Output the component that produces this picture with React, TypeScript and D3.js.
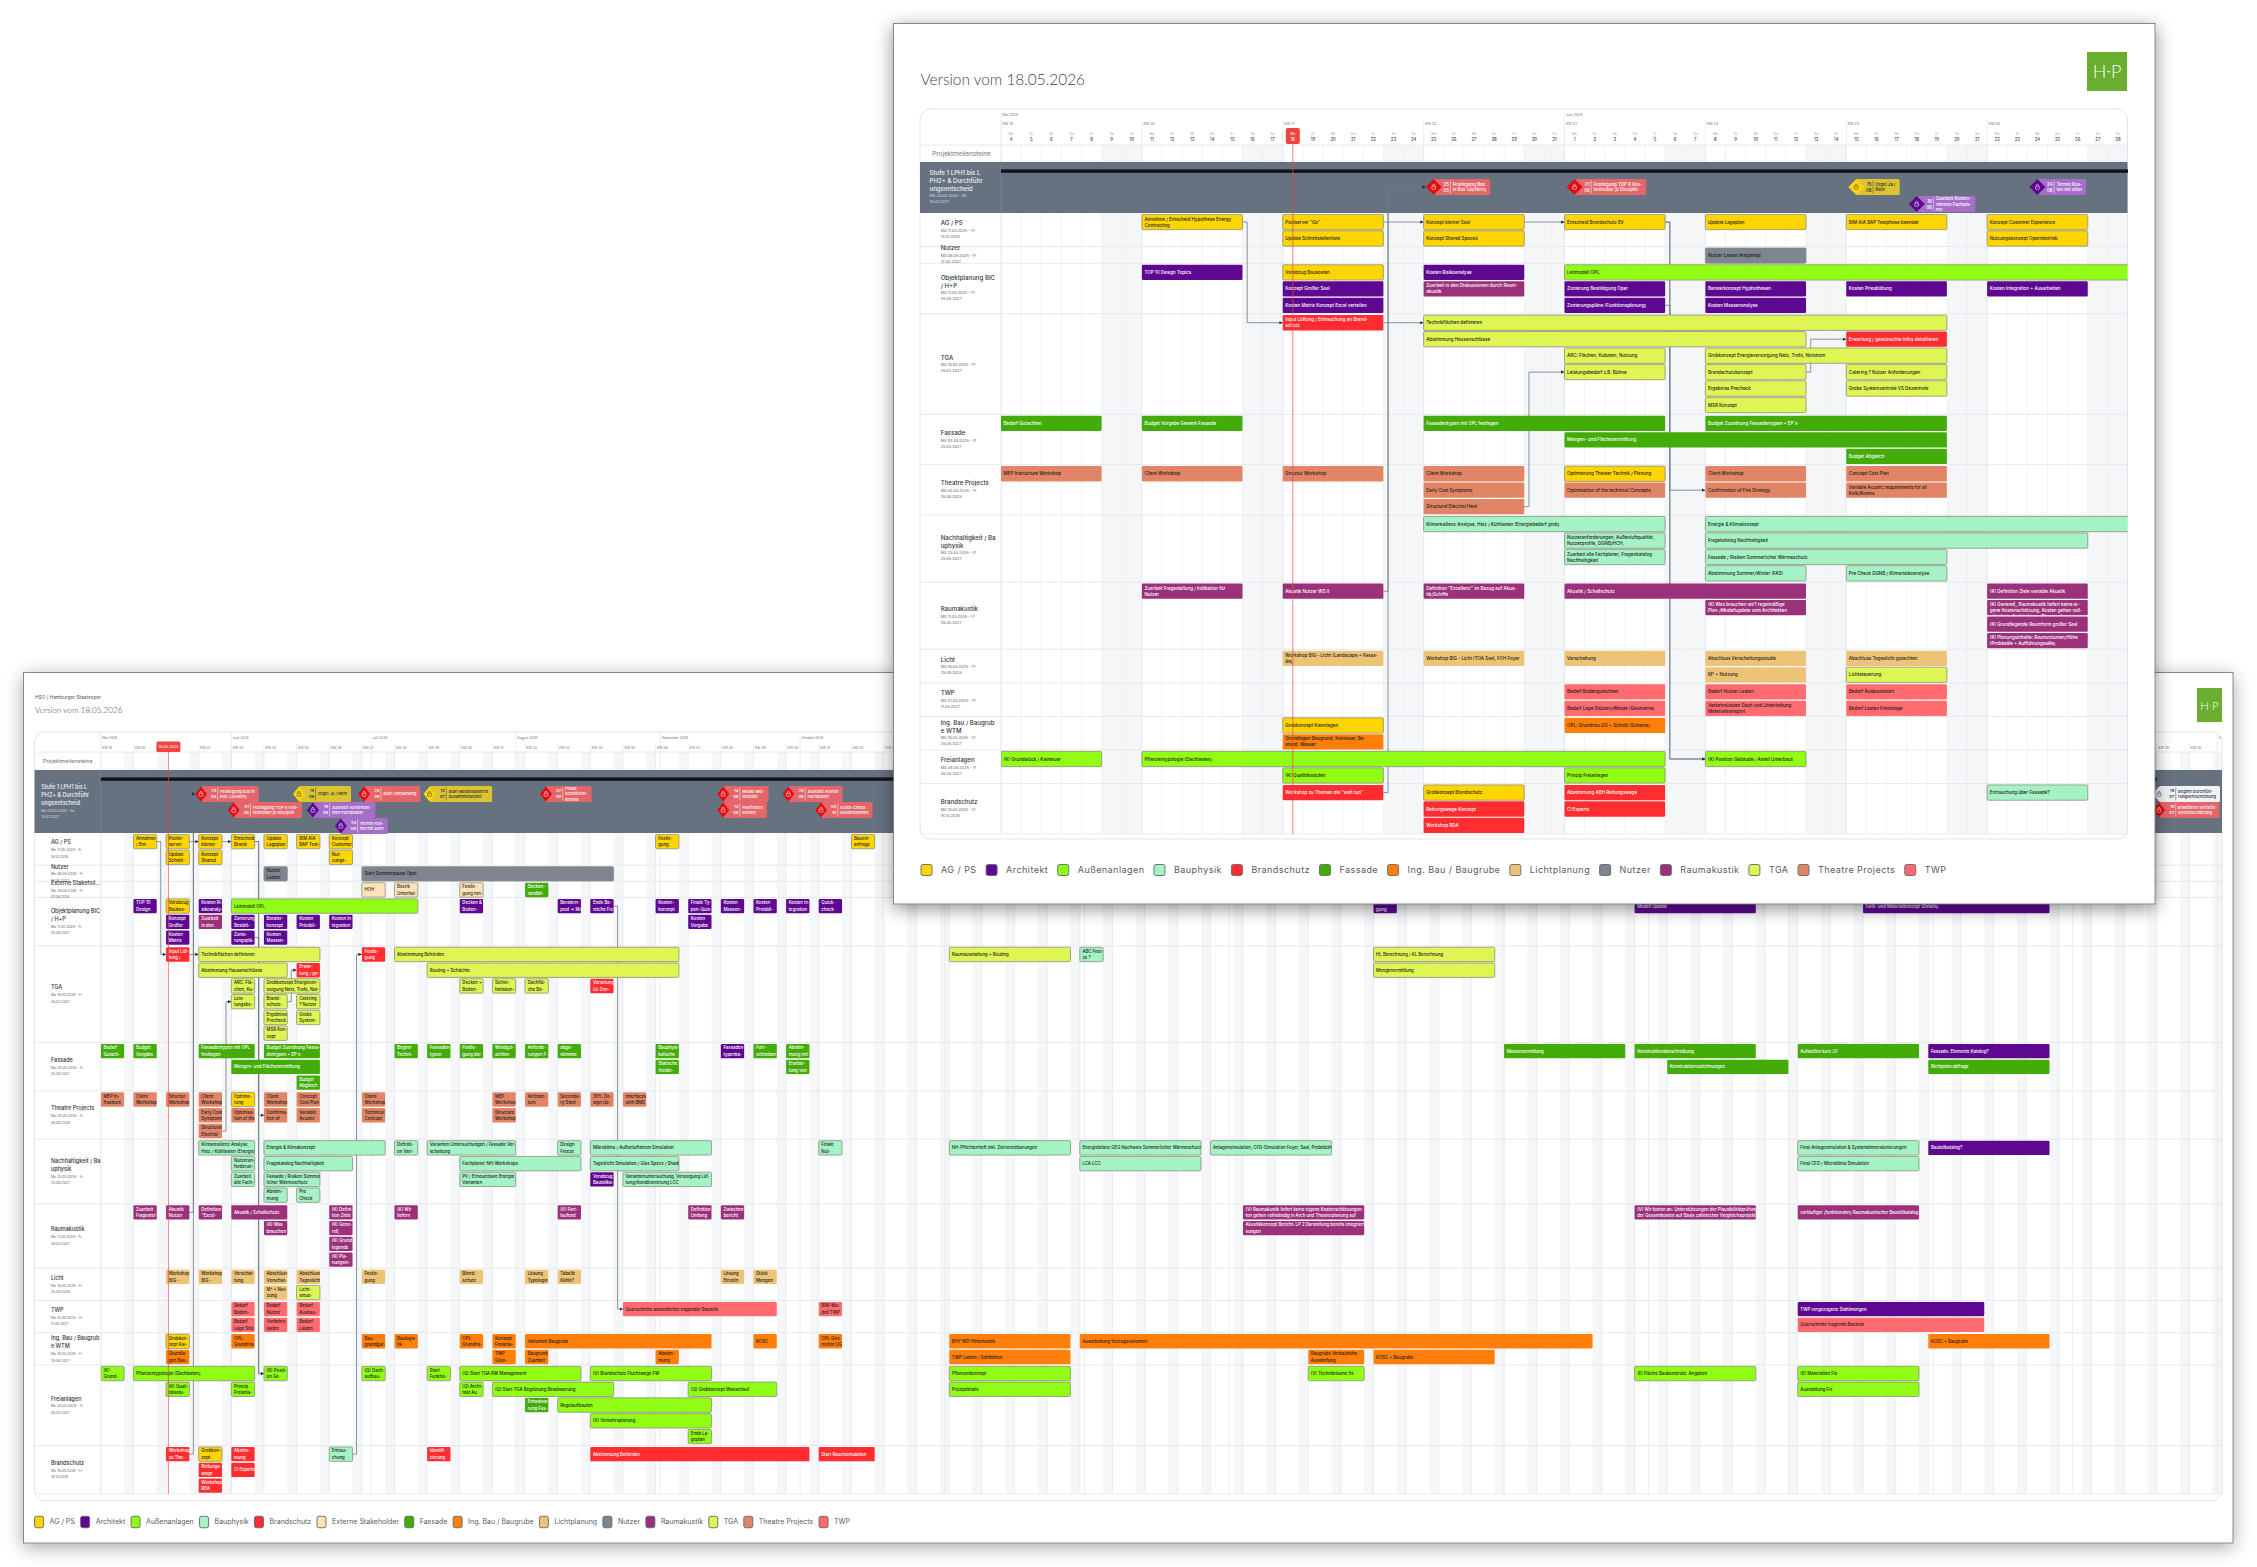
import React from "react";
import * as d3 from "d3";

// Farben der Gewerke
const catKeys = ["ag", "ar", "au", "bp", "br", "es", "fa", "ib", "li", "nu", "ra", "tg", "th", "tw"];
const catNames = ["AG / PS", "Architekt", "Außenanlagen", "Bauphysik", "Brandschutz", "Externe Stakeholder", "Fassade", "Ing. Bau / Baugrube", "Lichtplanung", "Nutzer", "Raumakustik", "TGA", "Theatre Projects", "TWP"];
const catColors = ["#ffd500", "#5e0891", "#92fd14", "#a5f3c4", "#ff2d2f", "#ffe3b8", "#43ac08", "#ff7f0a", "#edc377", "#7f8590", "#9c317b", "#dff553", "#e28566", "#ff6b6e"];
const outlined = ["ag", "au", "bp", "tg", "es", "nu"];
const lightText = ["ar", "br", "fa", "ra"];

const rowKeys = ["AG", "NU", "EX", "OB", "TG", "FA", "TH", "NA", "RA", "LI", "TW", "IB", "FR", "BR"];
const rowNames = ["AG / PS", "Nutzer", "Externe Stakehol...", "Objektplanung BIC\n/ H+P", "TGA", "Fassade", "Theatre Projects", "Nachhaltigkeit / Ba\nuphysik", "Raumakustik", "Licht", "TWP", "Ing. Bau / Baugrub\ne WTM", "Freianlagen", "Brandschutz"];
const rowDates = ["Mo 11.05.2026 - Fr\n16.10.2026", "Mo 08.06.2026 - Fr\n12.02.2027", "Mo 29.06.2026 - Fr\n07.08.2026", "Mo 11.05.2026 - Fr\n25.06.2027", "Mo 18.05.2026 - Fr\n26.02.2027", "Mo 04.05.2026 - Fr\n25.06.2027", "Mo 04.05.2026 - Fr\n28.08.2026", "Mo 25.05.2026 - Fr\n25.06.2027", "Mo 11.05.2026 - Fr\n28.05.2027", "Mo 18.05.2026 - Fr\n25.09.2026", "Mo 01.06.2026 - Fr\n11.06.2027", "Mo 18.05.2026 - Fr\n25.06.2027", "Mo 04.05.2026 - Fr\n28.05.2027", "Mo 18.05.2026 - Fr\n16.10.2026"];
const frontLanes = [2, 1, 0, 3, 6, 3, 3, 4, 4, 2, 2, 2, 2, 3];
const backLanes = [2, 1, 1, 3, 6, 3, 3, 4, 4, 2, 2, 2, 5, 3];
const summaryName = "Stufe 1 LPH1 bis L\nPH2+ & Durchführ\nungsentscheid";
const summaryDates = "Mo 04.05.2026 - So\n18.07.2027";
const summarySpan = ["2026-05-04", "2027-07-18"];
const todayDate = "2026-05-18";
const monthNames = ["Januar", "Februar", "März", "April", "Mai", "Juni", "Juli", "August", "September", "Oktober", "November", "Dezember"];
const dayNames = ["So", "Mo", "Di", "Mi", "Do", "Fr", "Sa"];

// [Gewerk, Zeile, Spur, Start, Dauer in Tagen, Text]
type Task = [string, string, number, string, number, string];
type Ms = [string, number, string, string];

const frontTasks: Task[] = [
  ["ag", "AG", 0, "2026-05-11", 5, "Annahme / Entscheid Hypothese Energy\nContracting"],
  ["ag", "AG", 0, "2026-05-18", 5, 'Poolserver "Go"'],
  ["ag", "AG", 0, "2026-05-25", 5, "Konzept kleiner Saal"],
  ["ag", "AG", 0, "2026-06-01", 5, "Entscheid Brandschutz EV"],
  ["ag", "AG", 0, "2026-06-08", 5, "Update Lageplan"],
  ["ag", "AG", 0, "2026-06-15", 5, "BIM AIA BAP Testphase beendet"],
  ["ag", "AG", 0, "2026-06-22", 5, "Konzept Customer Experience"],
  ["ag", "AG", 1, "2026-05-18", 5, "Update Schnittstellenliste"],
  ["ag", "AG", 1, "2026-05-25", 5, "Konzept Shared Spaces"],
  ["ag", "AG", 1, "2026-06-22", 5, "Nutzungskonzept Opernbetrieb"],
  ["nu", "NU", 0, "2026-06-08", 5, "Nutzer Lasten festgelegt"],
  ["ar", "OB", 0, "2026-05-11", 5, "TOP 10 Design Topics"],
  ["ag", "OB", 0, "2026-05-18", 5, "Vorabzug Baukosten"],
  ["ar", "OB", 0, "2026-05-25", 5, "Kosten Risikoanalyse"],
  ["au", "OB", 0, "2026-06-01", 40, "Leitmodell OPL"],
  ["ar", "OB", 1, "2026-05-18", 5, "Konzept Großer Saal"],
  ["ra", "OB", 1, "2026-05-25", 5, "Zuarbeit in den Diskussionen durch Raum-\nakustik"],
  ["ar", "OB", 1, "2026-06-01", 5, "Zonierung Bestätigung Oper"],
  ["ar", "OB", 1, "2026-06-08", 5, "Beraterkonzept Hyphothesen"],
  ["ar", "OB", 1, "2026-06-15", 5, "Kosten Priesbildung"],
  ["ar", "OB", 1, "2026-06-22", 5, "Kosten Integration + Ausarbeiten"],
  ["ar", "OB", 2, "2026-05-18", 5, "Kosten Matrix Konzept Excel verteilen"],
  ["ar", "OB", 2, "2026-06-01", 5, "Zonierungspläne (Funktionsplanung)"],
  ["ar", "OB", 2, "2026-06-08", 5, "Kosten Massenanalyse"],
  ["br", "TG", 0, "2026-05-18", 5, "Input Lüftung / Entrauchung an Brand-\nschutz"],
  ["tg", "TG", 0, "2026-05-25", 26, "Technikflächen definieren"],
  ["tg", "TG", 1, "2026-05-25", 19, "Abstimmung Hausanschlüsse"],
  ["br", "TG", 1, "2026-06-15", 5, "Erwartung / gewünschte Infos detaillieren"],
  ["tg", "TG", 2, "2026-06-01", 5, "ARC: Flächen, Kubaten, Nutzung"],
  ["tg", "TG", 2, "2026-06-08", 12, "Grobkonzept Energieversorgung Netz, Trafo, Notstrom"],
  ["tg", "TG", 3, "2026-06-01", 5, "Leistungsbedarf z.B. Bühne"],
  ["tg", "TG", 3, "2026-06-08", 5, "Brandschutzkonzept"],
  ["tg", "TG", 3, "2026-06-15", 5, "Catering ? Nutzer Anforderungen"],
  ["tg", "TG", 4, "2026-06-08", 5, "Ergebniss Precheck"],
  ["tg", "TG", 4, "2026-06-15", 5, "Grobe Systemzentrale VS Dezentrale"],
  ["tg", "TG", 5, "2026-06-08", 5, "MSR Konzept"],
  ["fa", "FA", 0, "2026-05-04", 5, "Bedarf Gutachten"],
  ["fa", "FA", 0, "2026-05-11", 5, "Budget Vorgabe Gewerk Fassade"],
  ["fa", "FA", 0, "2026-05-25", 12, "Fassadentypen mit OPL festlegen"],
  ["fa", "FA", 0, "2026-06-08", 12, "Budget Zuordnung Fassadentypen + EP´s"],
  ["fa", "FA", 1, "2026-06-01", 19, "Mengen- und Flächenermittlung"],
  ["fa", "FA", 2, "2026-06-15", 5, "Budget Abgleich"],
  ["th", "TH", 0, "2026-05-04", 5, "MEP Instructure Workshop"],
  ["th", "TH", 0, "2026-05-11", 5, "Client Workshop"],
  ["th", "TH", 0, "2026-05-18", 5, "Structur Workshop"],
  ["th", "TH", 0, "2026-05-25", 5, "Client Workshop"],
  ["ag", "TH", 0, "2026-06-01", 5, "Optimierung Theater Technik / Planung"],
  ["th", "TH", 0, "2026-06-08", 5, "Client Workshop"],
  ["th", "TH", 0, "2026-06-15", 5, "Concept Cost Plan"],
  ["th", "TH", 1, "2026-05-25", 5, "Early Cost Symptoms"],
  ["th", "TH", 1, "2026-06-01", 5, "Optimisation of the technical Concepts"],
  ["th", "TH", 1, "2026-06-08", 5, "Confirmation of Fire Strategy"],
  ["th", "TH", 1, "2026-06-15", 5, "Variable Acustic requirements for all\nKalk/Rooms"],
  ["th", "TH", 2, "2026-05-25", 5, "Structural Electrial Heat"],
  ["bp", "NA", 0, "2026-05-25", 12, "Klimaresilienz Analyse, Heiz / Kühllasten (Energiebedarf grob)"],
  ["bp", "NA", 0, "2026-06-08", 26, "Energie & Klimakonzept"],
  ["bp", "NA", 1, "2026-06-01", 5, "Nutzeranforderungen, Außenluftqualität,\nNutzerprofile, DGNB/HCH,"],
  ["bp", "NA", 1, "2026-06-08", 19, "Fragekatalog Nachhaltigkeit"],
  ["bp", "NA", 2, "2026-06-01", 5, "Zuarbeit alle Fachplaner, Fragenkatalog\nNachhaltigkeit"],
  ["bp", "NA", 2, "2026-06-08", 12, "Fassade / Risiken Sommerlicher Wärmeschutz"],
  ["bp", "NA", 3, "2026-06-08", 5, "Abstimmung Sommer/Winter (FAS)"],
  ["bp", "NA", 3, "2026-06-15", 5, "Pre Check DGNB / Klimarisikoanalyse"],
  ["ra", "RA", 0, "2026-05-11", 5, "Zuarbeit Fragestellung / Indikation für\nNutzer"],
  ["ra", "RA", 0, "2026-05-18", 5, "Akustik Nutzer WS II"],
  ["ra", "RA", 0, "2026-05-25", 5, 'Definition "Excellenz" im Bezug auf Akus-\ntik/Schiffe'],
  ["ra", "RA", 0, "2026-06-01", 12, "Akustik / Schallschutz"],
  ["ra", "RA", 0, "2026-06-22", 5, "(K) Definition Ziele variable Akustik"],
  ["ra", "RA", 1, "2026-06-08", 5, "(K) Was brauchen wir? regelmäßige\nPlan-/Modellupdate vom Architekten"],
  ["ra", "RA", 1, "2026-06-22", 5, "(K) Generell_ Raumakustik liefert keine ei-\ngene Kostenschätzung, Kosten gehen voll-\nständig in Architektur + Theaterpla-"],
  ["ra", "RA", 2, "2026-06-22", 5, "(K) Grundlegende Raumform großer Saal"],
  ["ra", "RA", 3, "2026-06-22", 5, "(K) Planungsinhalte: Raumvolumen/Höhe\n(Probesäle + Aufführungssäle)"],
  ["li", "LI", 0, "2026-05-18", 5, "Workshop BIG - Licht (Landscape + Fassa-\nde)"],
  ["li", "LI", 0, "2026-05-25", 5, "Workshop BIG - Licht (TOA Saal, FOH Foyer"],
  ["li", "LI", 0, "2026-06-01", 5, "Verschattung"],
  ["li", "LI", 0, "2026-06-08", 5, "Abschluss Verschattungsstudie"],
  ["li", "LI", 0, "2026-06-15", 5, "Abschluss Tageslicht gutachten"],
  ["li", "LI", 1, "2026-06-08", 5, "M² + Nutzung"],
  ["tg", "LI", 1, "2026-06-15", 5, "Lichtsteuerung"],
  ["tw", "TW", 0, "2026-06-01", 5, "Bedarf Bodengutachten"],
  ["tw", "TW", 0, "2026-06-08", 5, "Bedarf Nutzer Lasten"],
  ["tw", "TW", 0, "2026-06-15", 5, "Bedarf Ausbaulasten"],
  ["tw", "TW", 1, "2026-06-01", 5, "Bedarf Lage Stützen/Wände (Geometrie)"],
  ["tw", "TW", 1, "2026-06-08", 5, "Verkehrslasten Dach und Unterhaltung\nMaterialtransport"],
  ["tw", "TW", 1, "2026-06-15", 5, "Bedarf Lasten Freianlage"],
  ["ag", "IB", 0, "2026-05-18", 5, "Grobkonzept Kaianlagen"],
  ["ib", "IB", 0, "2026-06-01", 5, "OPL: Grundriss UG + Schnitt (Schema)"],
  ["ib", "IB", 1, "2026-05-18", 5, "Grundlagen Baugrund, Kaimauer, Be-\nstand, Wasser"],
  ["au", "FR", 0, "2026-05-04", 5, "(K) Grundstück / Kaimauer"],
  ["au", "FR", 0, "2026-05-11", 26, "Pflanzentypologie (Dachlasten)"],
  ["au", "FR", 0, "2026-06-08", 5, "(K) Position Gebäude / Anteil Unterbaut"],
  ["au", "FR", 1, "2026-05-18", 5, "(K) Qualitätsstufen"],
  ["au", "FR", 1, "2026-06-01", 5, "Prinzip Freianlagen"],
  ["br", "BR", 0, "2026-05-18", 5, 'Workshop zu Themen die "weh tun"'],
  ["ag", "BR", 0, "2026-05-25", 5, "Grobkonzept Brandschutz"],
  ["br", "BR", 0, "2026-06-01", 5, "Abstimmung ABH Rettungswege"],
  ["bp", "BR", 0, "2026-06-22", 5, "Entrauchung über Fassade?"],
  ["br", "BR", 1, "2026-05-25", 5, "Rettungswege Konzept"],
  ["br", "BR", 1, "2026-06-01", 5, "CI Experts"],
  ["br", "BR", 2, "2026-05-25", 5, "Workshop RDA"],
];

const backTasks: Task[] = [
  ["ag", "AG", 0, "2026-05-11", 5, "Annahme\n/ Ent-"],
  ["ag", "AG", 0, "2026-05-18", 5, "Pooler-\nserver"],
  ["ag", "AG", 0, "2026-05-25", 5, "Konzept\nkleiner"],
  ["ag", "AG", 0, "2026-06-01", 5, "Entscheid\nBrand-"],
  ["ag", "AG", 0, "2026-06-08", 5, "Update\nLageplan"],
  ["ag", "AG", 0, "2026-06-15", 5, "BIM AIA\nBAP Test-"],
  ["ag", "AG", 0, "2026-06-22", 5, "Konzept\nCustomer"],
  ["ag", "AG", 0, "2026-08-31", 5, "Festle-\ngung"],
  ["ag", "AG", 0, "2026-10-12", 5, "Bauvor-\nanfrage"],
  ["ag", "AG", 1, "2026-05-18", 5, "Update\nSchnitt-"],
  ["ag", "AG", 1, "2026-05-25", 5, "Konzept\nShared"],
  ["ag", "AG", 1, "2026-06-22", 5, "Nut-\nzungs-"],
  ["nu", "NU", 0, "2026-06-08", 5, "Nutzer\nLasten"],
  ["nu", "NU", 0, "2026-06-29", 54, "Start Sommerpause Oper"],
  ["es", "EX", 0, "2026-06-29", 5, "HOH"],
  ["es", "EX", 0, "2026-07-06", 5, "Bezirk\nUnterhal-"],
  ["es", "EX", 0, "2026-07-20", 5, "Festle-\ngung not-"],
  ["fa", "EX", 0, "2026-08-03", 5, "Decken-\nrandbil-"],
  ["ar", "OB", 0, "2026-05-11", 5, "TOP 10\nDesign"],
  ["ag", "OB", 0, "2026-05-18", 5, "Vorabzug\nBaukos-"],
  ["ar", "OB", 0, "2026-05-25", 5, "Kosten Ri-\nsikoanaly-"],
  ["au", "OB", 0, "2026-06-01", 40, "Leitmodell OPL"],
  ["ar", "OB", 0, "2026-07-20", 5, "Decken &\nBoden-"],
  ["ar", "OB", 0, "2026-08-10", 5, "Beratern-\npool -> Mo-"],
  ["ar", "OB", 0, "2026-08-17", 5, "Ende Be-\nreiche Fix"],
  ["ar", "OB", 0, "2026-08-31", 5, "Kosten-\nkonzept"],
  ["ar", "OB", 0, "2026-09-07", 5, "Finale Ty-\npen-Quix-"],
  ["ar", "OB", 0, "2026-09-14", 5, "Kosten\nMassen-"],
  ["ar", "OB", 0, "2026-09-21", 5, "Kosten\nPreisbil-"],
  ["ar", "OB", 0, "2026-09-28", 5, "Kosten In-\ntegration"],
  ["ar", "OB", 0, "2026-10-05", 5, "Quick-\ncheck"],
  ["ar", "OB", 0, "2027-02-01", 5, "Festle-\ngung"],
  ["ar", "OB", 0, "2027-03-29", 26, "Modell Update"],
  ["ar", "OB", 0, "2027-05-17", 40, "Farb- und Materialkonzept (Details)"],
  ["ar", "OB", 1, "2026-05-18", 5, "Konzept\nGroßer"],
  ["ra", "OB", 1, "2026-05-25", 5, "Zuarbeit\nin den"],
  ["ar", "OB", 1, "2026-06-01", 5, "Zonierung\nBestäti-"],
  ["ar", "OB", 1, "2026-06-08", 5, "Berater-\nkonzept"],
  ["ar", "OB", 1, "2026-06-15", 5, "Kosten\nPriesbil-"],
  ["ar", "OB", 1, "2026-06-22", 5, "Kosten In-\ntegration"],
  ["ar", "OB", 1, "2026-09-07", 5, "Kosten\nVorgabe"],
  ["ar", "OB", 2, "2026-05-18", 5, "Kosten\nMatrix"],
  ["ar", "OB", 2, "2026-06-01", 5, "Zonie-\nrungsplä-"],
  ["ar", "OB", 2, "2026-06-08", 5, "Kosten\nMassen-"],
  ["br", "TG", 0, "2026-05-18", 5, "Input Lüf-\ntung /"],
  ["tg", "TG", 0, "2026-05-25", 26, "Technikflächen definieren"],
  ["br", "TG", 0, "2026-06-29", 5, "Festle-\ngung "],
  ["tg", "TG", 0, "2026-07-06", 61, "Abstimmung Behörden"],
  ["tg", "TG", 0, "2026-11-02", 26, "Raumausstattung + Routing"],
  ["bp", "TG", 0, "2026-11-30", 5, "ABC Free-\nze ?"],
  ["tg", "TG", 0, "2027-02-01", 26, "HL Berechnung / KL Berechnung"],
  ["tg", "TG", 1, "2026-05-25", 19, "Abstimmung Hausanschlüsse"],
  ["br", "TG", 1, "2026-06-15", 5, "Erwar-\ntung / ge-"],
  ["tg", "TG", 1, "2026-07-13", 54, "Routing + Schächte"],
  ["tg", "TG", 1, "2027-02-01", 26, "Mengenermittlung"],
  ["tg", "TG", 2, "2026-06-01", 5, "ARC: Flä-\nchen, Ku-"],
  ["tg", "TG", 2, "2026-06-08", 12, "Grobkonzept Energiever-\nsorgung Netz, Trafo, Not-"],
  ["tg", "TG", 2, "2026-07-20", 5, "Decken +\nBoden-"],
  ["tg", "TG", 2, "2026-07-27", 5, "Sicher-\nheitskon-"],
  ["tg", "TG", 2, "2026-08-03", 5, "Dachflä-\nche Be-"],
  ["br", "TG", 2, "2026-08-17", 5, "Vorsetung\nLü-Zen-"],
  ["tg", "TG", 3, "2026-06-01", 5, "Leis-\ntungsbe-"],
  ["tg", "TG", 3, "2026-06-08", 5, "Brand-\nschutz-"],
  ["tg", "TG", 3, "2026-06-15", 5, "Catering\n? Nutzer"],
  ["tg", "TG", 4, "2026-06-08", 5, "Ergebniss\nPrecheck"],
  ["tg", "TG", 4, "2026-06-15", 5, "Grobe\nSystem-"],
  ["tg", "TG", 5, "2026-06-08", 5, "MSR Kon-\nzept"],
  ["fa", "FA", 0, "2026-05-04", 5, "Bedarf\nGutach-"],
  ["fa", "FA", 0, "2026-05-11", 5, "Budget\nVorgabe"],
  ["fa", "FA", 0, "2026-05-25", 12, "Fassadentypen mit OPL\nfestlegen"],
  ["fa", "FA", 0, "2026-06-08", 12, "Budget Zuordnung Fassa-\ndentypen + EP´s"],
  ["fa", "FA", 0, "2026-07-06", 5, "Beginn\nTechni-"],
  ["fa", "FA", 0, "2026-07-13", 5, "Fassaden-\ntypen"],
  ["fa", "FA", 0, "2026-07-20", 5, "Festle-\ngung der"],
  ["fa", "FA", 0, "2026-07-27", 5, "Windgut-\nachten"],
  ["fa", "FA", 0, "2026-08-03", 5, "Anforde-\nrungen F-"],
  ["fa", "FA", 0, "2026-08-10", 5, "abge-\nstimmte"],
  ["fa", "FA", 0, "2026-08-31", 5, "Bauphysi-\nkalische"],
  ["ar", "FA", 0, "2026-09-14", 5, "Fassaden-\ntypenka-"],
  ["fa", "FA", 0, "2026-09-21", 5, "Fort-\nschreiben"],
  ["fa", "FA", 0, "2026-09-28", 5, "Abstim-\nmung mit"],
  ["fa", "FA", 0, "2027-03-01", 26, "Massenermittlung"],
  ["fa", "FA", 0, "2027-03-29", 26, "Konstruktionsbeschreibung"],
  ["fa", "FA", 0, "2027-05-03", 26, "Aufstellen kurz LV"],
  ["ar", "FA", 0, "2027-05-31", 26, "Fassade: Elemente Katalog?"],
  ["fa", "FA", 1, "2026-06-01", 19, "Mengen- und Flächenermittlung"],
  ["fa", "FA", 1, "2026-08-31", 5, "Statische\nVordei-"],
  ["fa", "FA", 1, "2026-09-28", 5, "Erarbei-\ntung von"],
  ["fa", "FA", 1, "2027-04-05", 26, "Konstruktionszeichnungen"],
  ["fa", "FA", 1, "2027-05-31", 26, "Richtpreis abfrage"],
  ["fa", "FA", 2, "2026-06-15", 5, "Budget\nAbgleich"],
  ["th", "TH", 0, "2026-05-04", 5, "MEP In-\nfrastture"],
  ["th", "TH", 0, "2026-05-11", 5, "Client\nWorkshop"],
  ["th", "TH", 0, "2026-05-18", 5, "Structur\nWorkshop"],
  ["th", "TH", 0, "2026-05-25", 5, "Client\nWorkshop"],
  ["ag", "TH", 0, "2026-06-01", 5, "Optimie-\nrung"],
  ["th", "TH", 0, "2026-06-08", 5, "Client\nWorkshop"],
  ["th", "TH", 0, "2026-06-15", 5, "Concept\nCost Plan"],
  ["th", "TH", 0, "2026-06-29", 5, "Client\nWorkshop"],
  ["th", "TH", 0, "2026-07-27", 5, "MEP\nWorkshop"],
  ["th", "TH", 0, "2026-08-03", 5, "Architec-\nture"],
  ["th", "TH", 0, "2026-08-10", 5, "Seconda-\nry Steel"],
  ["th", "TH", 0, "2026-08-17", 5, "30% De-\nsign Up-"],
  ["th", "TH", 0, "2026-08-24", 5, "Interfaces\nwith BMS"],
  ["th", "TH", 1, "2026-05-25", 5, "Early Cost\nSymptoms"],
  ["th", "TH", 1, "2026-06-01", 5, "Optimisa-\ntion of the"],
  ["th", "TH", 1, "2026-06-08", 5, "Confirma-\ntion of"],
  ["th", "TH", 1, "2026-06-15", 5, "Variable\nAcustic"],
  ["th", "TH", 1, "2026-06-29", 5, "Technical\nConcept"],
  ["th", "TH", 1, "2026-07-27", 5, "Structure\nWorkshop"],
  ["th", "TH", 2, "2026-05-25", 5, "Structural\nElectrial"],
  ["bp", "NA", 0, "2026-05-25", 12, "Klimaresilienz Analyse,\nHeiz / Kühllasten (Energie-"],
  ["bp", "NA", 0, "2026-06-08", 26, "Energie & Klimakonzept"],
  ["bp", "NA", 0, "2026-07-06", 5, "Definiti-\non Vari-"],
  ["bp", "NA", 0, "2026-07-13", 19, "Varianten Untersuchungen / Fassade Ver-\nschattung"],
  ["bp", "NA", 0, "2026-08-10", 5, "Design\nFreeze"],
  ["bp", "NA", 0, "2026-08-17", 26, "Mikroklima / Außenluftstrom Simulation"],
  ["bp", "NA", 0, "2026-10-05", 5, "Finale\nNut-"],
  ["bp", "NA", 0, "2026-11-02", 26, "NH-Pflichtenheft inkl. Zielvereinbarungen"],
  ["bp", "NA", 0, "2026-11-30", 26, "Energiebilanz GEG Nachweis Sommerlicher Wärmeschutz"],
  ["bp", "NA", 0, "2026-12-28", 26, "Anlagensimulation, CFD-Simulation Foyer, Saal, Probebühnen"],
  ["bp", "NA", 0, "2027-05-03", 26, "Final Anlagesimulation & Systemdimensionierungen"],
  ["ar", "NA", 0, "2027-05-31", 26, "Bauteilkatalog?"],
  ["bp", "NA", 1, "2026-06-01", 5, "Nutzeran-\nforderun-"],
  ["bp", "NA", 1, "2026-06-08", 19, "Fragekatalog Nachhaltigkeit"],
  ["bp", "NA", 1, "2026-07-20", 26, "Fachplaner NH-Workshops"],
  ["bp", "NA", 1, "2026-08-17", 19, "Tageslicht Simulation / Glas Specs / Shading"],
  ["bp", "NA", 1, "2026-11-30", 26, "LCA LCC"],
  ["bp", "NA", 1, "2027-05-03", 26, "Final CFD / Microklima Simulation"],
  ["bp", "NA", 2, "2026-06-01", 5, "Zuarbeit\nalle Fach-"],
  ["bp", "NA", 2, "2026-06-08", 12, "Fassade / Risiken Sommer-\nlicher Wärmeschutz"],
  ["bp", "NA", 2, "2026-07-20", 12, "PV / Erneuerbare Energie\nVarianten"],
  ["ar", "NA", 2, "2026-08-17", 5, "Vorabzug\nBauteilka-"],
  ["bp", "NA", 2, "2026-08-24", 19, "Variantenuntersuchung, Versorgung Lüf-\ntung/Konditionierung LCC"],
  ["bp", "NA", 3, "2026-06-08", 5, "Abstim-\nmung"],
  ["bp", "NA", 3, "2026-06-15", 5, "Pre\nCheck"],
  ["ra", "RA", 0, "2026-05-11", 5, "Zuarbeit\nFragestel-"],
  ["ra", "RA", 0, "2026-05-18", 5, "Akustik\nNutzer"],
  ["ra", "RA", 0, "2026-05-25", 5, 'Definition\n"Excel-'],
  ["ra", "RA", 0, "2026-06-01", 12, "Akustik / Schallschutz"],
  ["ra", "RA", 0, "2026-06-22", 5, "(K) Defini-\ntion Ziele"],
  ["ra", "RA", 0, "2026-07-06", 5, "(K) Wir\nliefern"],
  ["ra", "RA", 0, "2026-08-10", 5, "(V) Fort-\nlaufend"],
  ["ra", "RA", 0, "2026-09-07", 5, "Definition\nUmfang"],
  ["ra", "RA", 0, "2026-09-14", 5, "Zwischen-\nbericht"],
  ["ra", "RA", 0, "2027-01-04", 26, "(V) Raumakustik liefert keine eigene Kostenschätzungen. Kos-\nten gehen vollständig in Arch und Theaterplanung auf"],
  ["ra", "RA", 0, "2027-03-29", 26, "(V) Wir bieten an: Unterstützungen der Plausibilitätprüfungen\nder Gesamtkosten auf Basis zahlreicher Vergleichsprojekte aus"],
  ["ra", "RA", 0, "2027-05-03", 26, "vorläufiger (funktionaler) Raumakustischer Bauteilkatalog"],
  ["ra", "RA", 1, "2026-06-08", 5, "(K) Was\nbrauchen"],
  ["ra", "RA", 1, "2026-06-22", 5, "(K) Gene-\nrell,"],
  ["ra", "RA", 1, "2027-01-04", 26, "Akustikkonzept Bericht: LP 2 Darstellung bereits integrierter Lö-\nsungen"],
  ["ra", "RA", 2, "2026-06-22", 5, "(K) Grund-\nlegende"],
  ["ra", "RA", 3, "2026-06-22", 5, "(K) Pla-\nnungsin-"],
  ["li", "LI", 0, "2026-05-18", 5, "Workshop\nBIG -"],
  ["li", "LI", 0, "2026-05-25", 5, "Workshop\nBIG -"],
  ["li", "LI", 0, "2026-06-01", 5, "Verschat-\ntung"],
  ["li", "LI", 0, "2026-06-08", 5, "Abschluss\nVerschat-"],
  ["li", "LI", 0, "2026-06-15", 5, "Abschluss\nTageslicht"],
  ["li", "LI", 0, "2026-06-29", 5, "Festle-\ngung"],
  ["li", "LI", 0, "2026-07-20", 5, "Blend-\nschutz"],
  ["li", "LI", 0, "2026-08-03", 5, "Lösung\nTypologie"],
  ["li", "LI", 0, "2026-08-10", 5, "Tabelle\nKühle?"],
  ["li", "LI", 0, "2026-09-14", 5, "Lösung\nEinzeln"],
  ["li", "LI", 0, "2026-09-21", 5, "Stück\nMengen"],
  ["li", "LI", 1, "2026-06-08", 5, "M² + Nut-\nzung"],
  ["tg", "LI", 1, "2026-06-15", 5, "Licht-\nsteue-"],
  ["tw", "TW", 0, "2026-06-01", 5, "Bedarf\nBoden-"],
  ["tw", "TW", 0, "2026-06-08", 5, "Bedarf\nNutzer"],
  ["tw", "TW", 0, "2026-06-15", 5, "Bedarf\nAusbau-"],
  ["tw", "TW", 0, "2026-08-24", 33, "Querschnitte wesentlicher tragender Bauteile"],
  ["tw", "TW", 0, "2026-10-05", 5, "BIM-Mo-\ndell TWP"],
  ["ar", "TW", 0, "2027-05-03", 40, "TWP vorgezogene Stahlmengen"],
  ["tw", "TW", 1, "2026-06-01", 5, "Bedarf\nLage Stüt-"],
  ["tw", "TW", 1, "2026-06-08", 5, "Verkehrs-\nlasten"],
  ["tw", "TW", 1, "2026-06-15", 5, "Bedarf\nLasten"],
  ["tw", "TW", 1, "2027-05-03", 40, "Querschnitte tragende Bauteile"],
  ["ag", "IB", 0, "2026-05-18", 5, "Grobkon-\nzept Kai-"],
  ["ib", "IB", 0, "2026-06-01", 5, "OPL:\nGrundriss"],
  ["ib", "IB", 0, "2026-06-29", 5, "Bau-\ngrundgut-"],
  ["ib", "IB", 0, "2026-07-06", 5, "Baulogis-\ntik"],
  ["ib", "IB", 0, "2026-07-20", 5, "OPL\nGrundris-"],
  ["ib", "IB", 0, "2026-07-27", 5, "Konzept\nFreianla-"],
  ["ib", "IB", 0, "2026-08-03", 40, "Varianten Baugrube"],
  ["ib", "IB", 0, "2026-09-21", 5, "KOSC"],
  ["ib", "IB", 0, "2026-10-05", 5, "OPL Geo-\nmetrie UG"],
  ["ib", "IB", 0, "2026-11-02", 26, "BHY WD Höhensohle"],
  ["ib", "IB", 0, "2026-11-30", 110, "Ausarbeitung Vorzugsvarianten"],
  ["ib", "IB", 0, "2027-05-31", 26, "KOSC + Baugrube"],
  ["ib", "IB", 1, "2026-05-18", 5, "Grundla-\ngen Bau-"],
  ["ib", "IB", 1, "2026-07-27", 5, "TWP\nGrün-"],
  ["ib", "IB", 1, "2026-08-03", 5, "Baugrund\nZuarbeit"],
  ["ib", "IB", 1, "2026-08-31", 5, "Abstim-\nmung"],
  ["ib", "IB", 1, "2026-11-02", 26, "TWP Lasten / Sohlhöhen"],
  ["ib", "IB", 1, "2027-01-18", 12, "Baugrube Verbauhöhe,\nAussteifung"],
  ["ib", "IB", 1, "2027-02-01", 26, "KOSC + Baugrube"],
  ["au", "FR", 0, "2026-05-04", 5, "(K)\nGrund-"],
  ["au", "FR", 0, "2026-05-11", 26, "Pflanzentypologie (Dachlasten)"],
  ["au", "FR", 0, "2026-06-08", 5, "(K) Positi-\non Ge-"],
  ["au", "FR", 0, "2026-06-29", 5, "(Q) Dach-\naufbau-"],
  ["au", "FR", 0, "2026-07-13", 5, "Start\nFunktio-"],
  ["au", "FR", 0, "2026-07-20", 26, "(Q) Start TGA RW Management"],
  ["au", "FR", 0, "2026-08-17", 26, "(V) Brandschutz Fluchtwege FW"],
  ["au", "FR", 0, "2026-11-02", 26, "Pflanzenkonzept"],
  ["au", "FR", 0, "2027-01-18", 12, "(V) Technikräume fix"],
  ["au", "FR", 0, "2027-03-29", 26, "(E) Fläche Baukonstrukt. Angaben"],
  ["au", "FR", 0, "2027-05-03", 26, "(E) Materialien Fix"],
  ["au", "FR", 1, "2026-05-18", 5, "(K) Quali-\ntätsstu-"],
  ["au", "FR", 1, "2026-06-01", 5, "Prinzip\nFreianla-"],
  ["au", "FR", 1, "2026-07-20", 5, "(Q) Archi-\ntekt Au"],
  ["au", "FR", 1, "2026-07-27", 26, "(Q) Start TGA Begrünung Bewässerung"],
  ["au", "FR", 1, "2026-09-07", 19, "(Q) Grobkonzept Wasserlauf"],
  ["au", "FR", 1, "2026-11-02", 26, "Prüzipdetails"],
  ["au", "FR", 1, "2027-05-03", 26, "Ausstattung Fix"],
  ["fa", "FR", 2, "2026-08-03", 5, "Entwässe-\nrung Fas-"],
  ["au", "FR", 2, "2026-08-10", 33, "Regelaufbauten"],
  ["au", "FR", 3, "2026-08-17", 26, "(V) Verkehrsplanung"],
  ["au", "FR", 4, "2026-09-07", 5, "Ende La-\ngeplan"],
  ["br", "BR", 0, "2026-05-18", 5, "Workshop\nzu The-"],
  ["ag", "BR", 0, "2026-05-25", 5, "Grobkon-\nzept"],
  ["br", "BR", 0, "2026-06-01", 5, "Abstim-\nmung"],
  ["bp", "BR", 0, "2026-06-22", 5, "Entrau-\nchung"],
  ["br", "BR", 0, "2026-07-13", 5, "Identifi-\nzierung"],
  ["br", "BR", 0, "2026-08-17", 47, "Abstimmung Behörden"],
  ["br", "BR", 0, "2026-10-05", 12, "Start Rauchsimulation"],
  ["br", "BR", 1, "2026-05-25", 5, "Rettungs-\nwege"],
  ["br", "BR", 1, "2026-06-01", 5, "CI Experts"],
  ["br", "BR", 2, "2026-05-25", 5, "Workshop\nRDA"],
];

// [Gewerk, Spur, Datum, Text]
const frontMilestones: Ms[] = [
  ["br", 0, "2026-05-25", "Festlegung Box\nin Box (Ja/Nein)"],
  ["br", 0, "2026-06-01", "Festlegung TOP X Kos-\ntentreiber je Disziplin"],
  ["ag", 0, "2026-06-15", "Orgel Ja /\nNein"],
  ["ar", 1, "2026-06-18", "Zuarbeit Kosten-\nrahmen Fachpla-\nner"],
  ["ar", 0, "2026-06-24", "Termin Kos-\nten mit allen"],
];
const backMilestones: Ms[] = [
  ["br", 0, "2026-05-25", "Festlegung Box in\nBox (Ja/Nein)"],
  ["ag", 0, "2026-06-15", "Orgel Ja / Nein"],
  ["br", 0, "2026-06-29", "Start Vorplanung"],
  ["ag", 0, "2026-07-13", "Start Modellbasierte\nZusammenarbeit"],
  ["br", 0, "2026-08-07", "Finale\nSchnittstel-\nlenliste"],
  ["br", 0, "2026-09-14", "Model Mei-\nlenstein"],
  ["br", 0, "2026-09-28", "Zuarbeit Kosten\nFachplaner"],
  ["br", 1, "2026-06-01", "Festlegung TOP X Kos-\ntentreiber je Disziplin"],
  ["ar", 1, "2026-06-18", "Zuarbeit Kostenrah-\nmen Fachplaner"],
  ["br", 1, "2026-09-14", "Planfreeze\nKosten"],
  ["br", 1, "2026-10-05", "Quick-Check\nKostenrahmen"],
  ["ar", 2, "2026-06-24", "Termin Kos-\nten mit allen"],
  ["wh", 0, "2027-07-19", "Beginn Durchfüh-\nrungsentscheidung"],
  ["br", 1, "2027-07-19", "Erweiterte vertiefte\nKostenschätzung"],
];

// [von, nach] ueber den Text, Meilensteine als Datum
const frontLinks = [
  ["Annahme / Entscheid Hypothese Energy\nContracting", "Input Lüftung / Entrauchung an Brand-\nschutz"],
  ["Input Lüftung / Entrauchung an Brand-\nschutz", "Technikflächen definieren"],
  ['Poolserver "Go"', "Konzept kleiner Saal"],
  ["Konzept kleiner Saal", "Entscheid Brandschutz EV"],
  ['Workshop zu Themen die "weh tun"', "2026-05-25"],
  ["Akustik Nutzer WS II", "2026-05-25"],
  ["Structural Electrial Heat", "Leistungsbedarf z.B. Bühne"],
  ["Brandschutzkonzept", "Erwartung / gewünschte Infos detaillieren"],
  ["Entscheid Brandschutz EV", "Confirmation of Fire Strategy"],
  ["Entscheid Brandschutz EV", "(K) Position Gebäude / Anteil Unterbaut"],
  ["Zonierungspläne (Funktionsplanung)", "(K) Position Gebäude / Anteil Unterbaut"],
];
const backLinks = [
  ["Annahme\n/ Ent-", "Input Lüf-\ntung /"],
  ["Input Lüf-\ntung /", "Technikflächen definieren"],
  ["Pooler-\nserver", "Konzept\nkleiner"],
  ["Konzept\nkleiner", "Entscheid\nBrand-"],
  ["Workshop\nzu The-", "2026-05-25"],
  ["Akustik\nNutzer", "2026-05-25"],
  ["Structural\nElectrial", "Leis-\ntungsbe-"],
  ["Brand-\nschutz-", "Erwar-\ntung / ge-"],
  ["Entscheid\nBrand-", "Confirma-\ntion of"],
  ["Entscheid\nBrand-", "(K) Positi-\non Ge-"],
  ["Zonie-\nrungsplä-", "(K) Positi-\non Ge-"],
  ["Entrau-\nchung", "Festle-\ngung "],
  ["Ende Be-\nreiche Fix", "Querschnitte wesentlicher tragender Bauteile"],
];

const font = "Inter, 'Noto Sans', sans-serif";
const parse = d3.utcParse("%Y-%m-%d");
const day = (s: string) => parse(s) as Date;
const color = (k: string) => catColors[catKeys.indexOf(k)];
const msTint: Record<string, string> = { br: "#e4666b", ag: "#dcc431", ar: "#a56fc9", wh: "#f2f3f5" };
const msSolid: Record<string, string> = { br: "#e30d12", ag: "#ffd500", ar: "#5e0891", wh: "#f2f3f5" };

const ctx = document.createElement("canvas").getContext("2d") as CanvasRenderingContext2D;
const textWidth = (s: string, size: number, weight = 400) => {
  ctx.font = `${weight} ${size}px Inter`;
  return ctx.measureText(s).width;
};

interface Layout {
  id: string; px: number; py: number; pw: number; ph: number;
  tx: number; ty: number; tRight: number; tBottom: number; x0: number; x1: number; end: string;
  monthY: number; kwY: number; headBottom: number; darkTop: number; darkBottom: number;
  laneH: number; pitch: number; barH: number; barFs: number; lineH: number; gap: number;
  nameX: number; nameFs: number; nameLh: number; dateFs: number; dateLh: number; sumX: number;
  mileX: number; mileFs: number; msBase: number; msPitch: number; msHw: number; msHh: number; msFs: number;
  legendY: number; legendX: number; swW: number; swH: number; legFs: number; legGap: number; legAfter: number; legLs: number;
  headFs: number; dayGrid: boolean;
}

const frontLayout: Layout = {
  id: "f", px: 893.5, py: 23.5, pw: 1261.5, ph: 880.5,
  tx: 920, ty: 109, tRight: 2127.5, tBottom: 839, x0: 1001, x1: 2128, end: "2026-06-29",
  monthY: 115, kwY: 124, headBottom: 145, darkTop: 162, darkBottom: 213,
  laneH: 16.78, pitch: 16.45, barH: 15.3, barFs: 4.5, lineH: 6, gap: 4.7,
  nameX: 940.7, nameFs: 6.1, nameLh: 7.6, dateFs: 3.9, dateLh: 6, sumX: 929.5,
  mileX: 961.5, mileFs: 6.3, msBase: 25, msPitch: 17, msHw: 8, msHh: 8, msFs: 4.4,
  legendY: 870, legendX: 921, swW: 11, swH: 11, legFs: 9, legGap: 9, legAfter: 9.5, legLs: 0.45,
  headFs: 3.5, dayGrid: true,
};
const backLayout: Layout = {
  id: "b", px: 23.5, py: 672.5, pw: 2209.5, ph: 870.5,
  tx: 34.6, ty: 732, tRight: 2222, tBottom: 1500.5, x0: 100.8, x1: 2222, end: "2027-08-02",
  monthY: 737.5, kwY: 748, headBottom: 752, darkTop: 770, darkBottom: 833,
  laneH: 16.12, pitch: 15.75, barH: 14.4, barFs: 4.3, lineH: 6.4, gap: 4,
  nameX: 50.9, nameFs: 5.5, nameLh: 8.2, dateFs: 3.5, dateLh: 6.4, sumX: 41.3,
  mileX: 67.7, mileFs: 5.4, msBase: 24, msPitch: 16, msHw: 6, msHh: 7.5, msFs: 4.1,
  legendY: 1522, legendX: 34.6, swW: 9, swH: 11.5, legFs: 7, legGap: 6, legAfter: 5.8, legLs: 0,
  headFs: 3.3, dayGrid: false,
};

const LogoText: React.FC<{ x: number; y: number; size: number }> = ({ x, y, size }) => (
  <text x={x} y={y} fill="#fff" fontFamily="Lato, sans-serif" fontWeight={300} fontSize={size} textAnchor="middle" dominantBaseline="central">
    H<tspan fontSize={size * 0.45}>+</tspan>P
  </text>
);

const Lock: React.FC<{ cx: number; cy: number; s: number; c: string }> = ({ cx, cy, s, c }) => (
  <g fill="none" stroke={c} strokeWidth={s * 0.16}>
    <rect x={cx - s * 0.55} y={cy - s * 0.1} width={s * 1.1} height={s * 0.85} rx={s * 0.1} />
    <path d={`M${cx - s * 0.32},${cy - s * 0.1} v${-s * 0.25} a${s * 0.32},${s * 0.32} 0 0 1 ${s * 0.64},0 v${s * 0.25}`} />
  </g>
);

const Panel: React.FC<{ L: Layout; lanes: number[]; tasks: Task[]; milestones: Ms[]; links: string[][]; cats: string[] }> = ({ L, lanes, tasks, milestones, links, cats }) => {
  const start = day("2026-05-04");
  const end = day(L.end);
  const x = d3.scaleUtc().domain([start, end]).range([L.x0, L.x1]);
  const days = d3.utcDay.range(start, end);
  const weeks = d3.utcMonday.range(start, end);
  const months = d3.utcMonth.range(d3.utcMonth.floor(start), end);
  const kw = d3.utcFormat("%V");
  const dayW = x(d3.utcDay.offset(start, 1)) - x(start);
  const today = day(todayDate);
  const todayX = x(today) + dayW / 2;

  // Zeilen aus der Anzahl der Spuren
  let cursor = L.darkBottom;
  const rows = rowKeys.map((key, i) => {
    const top = cursor;
    cursor += lanes[i] * L.laneH;
    return { key, i, top, bottom: cursor, show: lanes[i] > 0 };
  }).filter((r) => r.show);
  const rowBottom = cursor;
  const rowOf = new Map(rows.map((r) => [r.key, r]));

  const bars = tasks.map(([cat, row, lane, s, len, label]) => {
    const a = day(s);
    const b = d3.utcDay.offset(a, len);
    return { cat, label, x: x(a), x2: x(b), y: (rowOf.get(row) as any).top + 1.4 + lane * L.pitch };
  });
  const msPoints = milestones.map(([cat, lane, d, label]) => {
    const lines = label.split("\n");
    const w = Math.max(...lines.map((t) => textWidth(t, L.msFs, 500)));
    return { cat, lane, d, lines, w, cx: x(day(d)) + dayW / 2, cy: L.darkTop + L.msBase + lane * L.msPitch };
  });
  const stepLine = d3.line();
  const linkPaths = links.map(([from, to]) => {
    const a = bars.find((t) => t.label === from);
    const b = bars.find((t) => t.label === to);
    const m = msPoints.find((t) => t.d === to);
    if (!a) return null;
    const y0 = a.y + L.barH / 2;
    const y1 = b ? b.y + L.barH / 2 : (m as any).cy;
    const tx = b ? b.x : (m as any).cx - L.msHw;
    const mid = a.x2 + L.gap;
    return stepLine([[a.x2, y0], [mid, y0], [mid, y1], [tx, y1]]);
  });

  let legX = L.legendX;
  const legend = cats.map((k) => {
    const name = catNames[catKeys.indexOf(k)];
    const item = { k, name, x: legX };
    legX += L.swW + L.legGap + textWidth(name, L.legFs) + name.length * L.legLs + L.legAfter;
    return item;
  });

  const labelBlock = (name: string, dates: string, xp: number, top: number, bottom: number, c1: string, c2: string) => {
    const nl = name.split("\n");
    const dl = dates.split("\n");
    const total = nl.length * L.nameLh + dl.length * L.dateLh;
    const y0 = (top + bottom) / 2 - total / 2;
    return (
      <g fontFamily={font}>
        {nl.map((t, j) => (
          <text key={j} x={xp} y={y0 + (j + 0.7) * L.nameLh} fontSize={L.nameFs} fontWeight={500} fill={c1}>{t}</text>
        ))}
        {dl.map((t, j) => (
          <text key={j} x={xp} y={y0 + nl.length * L.nameLh + (j + 0.7) * L.dateLh} fontSize={L.dateFs} fill={c2}>{t}</text>
        ))}
      </g>
    );
  };

  return (
    <g>
      <rect x={L.px} y={L.py} width={L.pw} height={L.ph} fill="#fff" stroke="#6b6f75" strokeWidth={0.8} filter={`url(#shadow-${L.id})`} />
      <clipPath id={`chart-${L.id}`}>
        <rect x={L.x0} y={L.ty} width={L.tRight - L.x0} height={L.tBottom - L.ty} />
      </clipPath>
      <marker id={`arrow-${L.id}`} markerUnits="userSpaceOnUse" markerWidth={4} markerHeight={4} refX={3.4} refY={2} orient="auto">
        <path d="M0,0.4 L3.4,2 L0,3.6 Z" fill="#1f2937" />
      </marker>

      <g clipPath={`url(#chart-${L.id})`}>
        {days.filter((d) => d.getUTCDay() === 0 || d.getUTCDay() === 6).map((d) => (
          <rect key={+d} x={x(d)} y={L.headBottom} width={dayW} height={rowBottom - L.headBottom} fill="#f5f6f8" />
        ))}
        {L.dayGrid && days.map((d) => (
          <line key={+d} x1={x(d)} x2={x(d)} y1={L.headBottom} y2={rowBottom} stroke="#e8ebf0" strokeWidth={0.6} />
        ))}
        {weeks.map((d) => (
          <line key={+d} x1={x(d)} x2={x(d)} y1={L.kwY - 4} y2={rowBottom} stroke="#e4e7ec" strokeWidth={0.7} />
        ))}
        {months.map((d) => (
          <line key={+d} x1={x(d)} x2={x(d)} y1={L.monthY - 5} y2={rowBottom} stroke="#e4e7ec" strokeWidth={0.7} />
        ))}
        {months.map((d) => (
          <text key={+d} x={Math.max(x(d), L.x0) + 1.5} y={L.monthY + 1.2} fontFamily={font} fontSize={L.headFs} fill="#6b7280">
            {monthNames[d.getUTCMonth()]} {d.getUTCFullYear()}
          </text>
        ))}
        {weeks.map((d) => (
          <text key={+d} x={x(d) + 1.5} y={L.kwY + 1.2} fontFamily={font} fontSize={L.headFs} fill="#6b7280">KW {+kw(d)}</text>
        ))}
        {L.dayGrid && days.map((d) => {
          const isToday = +d === +today;
          return (
            <g key={+d} fontFamily={font} textAnchor="middle">
              {isToday && <rect x={x(d) + dayW / 2 - 7} y={L.kwY + 4} width={14} height={16} rx={2} fill="#f0443f" />}
              <text x={x(d) + dayW / 2} y={L.kwY + 10.5} fontSize={3.4} fill={isToday ? "#fff" : "#9ca3af"}>{dayNames[d.getUTCDay()]}</text>
              <text x={x(d) + dayW / 2} y={L.kwY + 17} fontSize={4.2} fontWeight={500} fill={isToday ? "#fff" : "#374151"}>{d.getUTCDate()}</text>
            </g>
          );
        })}
      </g>

      {[L.headBottom, L.darkTop, ...rows.map((r) => r.bottom)].map((y, i) => (
        <line key={i} x1={L.tx} x2={L.tRight} y1={y} y2={y} stroke="#e4e8ee" strokeWidth={0.9} />
      ))}
      <line x1={L.x0} x2={L.x0} y1={L.monthY - 5} y2={rowBottom} stroke="#e0e4ea" strokeWidth={0.8} />
      <rect x={L.tx} y={L.ty} width={L.tRight - L.tx} height={L.tBottom - L.ty} rx={10} fill="none" stroke="#dde2e9" strokeWidth={0.9} />

      <text x={L.mileX} y={(L.headBottom + L.darkTop) / 2} textAnchor="middle" dominantBaseline="central" fontFamily={font} fontSize={L.mileFs} fill="#6b7280">
        Projektmeilensteine
      </text>

      <rect x={L.tx} y={L.darkTop} width={L.tRight - L.tx} height={L.darkBottom - L.darkTop} fill="#677281" />
      <line x1={L.x0} x2={L.x0} y1={L.darkTop} y2={L.darkBottom} stroke="#7d8794" strokeWidth={0.7} />
      <rect x={L.x0} y={L.darkTop + 7.4} width={Math.min(x(d3.utcDay.offset(day(summarySpan[1]), 1)), L.x1) - L.x0} height={3.4} fill="#10131c" />
      {labelBlock(summaryName, summaryDates, L.sumX, L.darkTop, L.darkBottom, "#f1f3f6", "#d5dae1")}

      {rows.map((r) => (
        <g key={r.key}>{labelBlock(rowNames[r.i], rowDates[r.i], L.nameX, r.top, r.bottom, "#2f3641", "#5f6773")}</g>
      ))}

      <g clipPath={`url(#chart-${L.id})`}>
        {linkPaths.map((d, i) => d && (
          <path key={i} d={d} fill="none" stroke="#6f7884" strokeWidth={0.8} markerEnd={`url(#arrow-${L.id})`} />
        ))}
        {bars.map((b, i) => {
          const w = b.x2 - b.x;
          const lines = b.label.split("\n");
          const light = lightText.includes(b.cat);
          return (
            <g key={i}>
              <rect x={b.x} y={b.y} width={w} height={L.barH} rx={1.2} fill={color(b.cat)}
                stroke={outlined.includes(b.cat) ? "#8c8f80" : "none"} strokeWidth={0.8} />
              <svg x={b.x} y={b.y} width={w} height={L.barH}>
                {lines.map((t, j) => (
                  <text key={j} x={2.6} y={L.barH / 2 + (j - (lines.length - 1) / 2) * L.lineH + (lines.length > 2 ? L.lineH / 2 : 0)} dy="0.35em"
                    fontFamily={font} fontWeight={500} fontSize={L.barFs} fill={light ? "#fff" : "#1b1b1b"}>{t}</text>
                ))}
              </svg>
            </g>
          );
        })}
        {msPoints.map((m, i) => {
          const dark = m.cat === "ag" || m.cat === "wh";
          const dd = d3.utcFormat("%d")(day(m.d));
          const mm = d3.utcFormat("%m")(day(m.d));
          const boxH = 16;
          return (
            <g key={i} fontFamily={font} fontSize={L.msFs} fontWeight={500} fill={dark ? "#1f2937" : "#fff"}>
              <rect x={m.cx} y={m.cy - boxH / 2} width={19 + m.w + 4} height={boxH} rx={1.5} fill={msTint[m.cat]} />
              <path d={`M${m.cx - L.msHw},${m.cy} L${m.cx},${m.cy - L.msHh} L${m.cx + L.msHw},${m.cy} L${m.cx},${m.cy + L.msHh} Z`} fill={msSolid[m.cat]} />
              <Lock cx={m.cx} cy={m.cy - 0.4} s={3.4} c={dark ? "#374151" : "#fff"} />
              <text x={m.cx + 15.2} y={m.cy - 3} textAnchor="end" dy="0.35em">{dd}</text>
              <text x={m.cx + 15.2} y={m.cy + 3} textAnchor="end" dy="0.35em">{mm}</text>
              <line x1={m.cx + 16.7} x2={m.cx + 16.7} y1={m.cy - 6.5} y2={m.cy + 6.5} stroke={dark ? "#374151" : "#fff"} strokeWidth={0.5} />
              {m.lines.map((t, j) => (
                <text key={j} x={m.cx + 19} y={m.cy + (j - (m.lines.length - 1) / 2) * 5.8} dy="0.35em">{t}</text>
              ))}
            </g>
          );
        })}
      </g>

      <line x1={todayX} x2={todayX} y1={L.headBottom - 1} y2={rowBottom} stroke="#f0443f" strokeWidth={0.8} opacity={0.85} />
      {!L.dayGrid && (
        <g fontFamily={font}>
          <rect x={todayX - 12} y={L.kwY - 6.4} width={24} height={10.4} rx={1.5} fill="#f0443f" />
          <text x={todayX} y={L.kwY - 1.2} textAnchor="middle" dominantBaseline="central" fontSize={L.headFs + 0.5} fill="#fff">18.05.2026</text>
        </g>
      )}

      {legend.map((l) => (
        <g key={l.k}>
          <rect x={l.x} y={L.legendY - L.swH / 2} width={L.swW} height={L.swH} rx={2} fill={color(l.k)} stroke="#5f6670" strokeWidth={0.9} />
          <text x={l.x + L.swW + L.legGap} y={L.legendY} dy="0.35em" fontFamily={font} fontSize={L.legFs} letterSpacing={L.legLs} fill="#555b66">{l.name}</text>
        </g>
      ))}
    </g>
  );
};

export default function App() {
  return (
    <svg width={2257} height={1567} style={{ position: "absolute", left: 0, top: 0, display: "block", background: "#fff" }}>
      <defs>
        <filter id="shadow-b" x="-5%" y="-5%" width="110%" height="110%">
          <feDropShadow dx={0} dy={4} stdDeviation={9} floodColor="#000" floodOpacity={0.35} />
        </filter>
        <filter id="shadow-f" x="-5%" y="-5%" width="110%" height="110%">
          <feDropShadow dx={0} dy={4} stdDeviation={9} floodColor="#000" floodOpacity={0.45} />
        </filter>
      </defs>

      <Panel L={backLayout} lanes={backLanes} tasks={backTasks} milestones={backMilestones} links={backLinks} cats={catKeys} />
      <text x={35} y={699} fontFamily={font} fontSize={4.8} fill="#4b5563">HSO | Hamburger Staatsoper</text>
      <text x={35} y={710} dy="0.35em" fontFamily="Lato, sans-serif" fontWeight={300} fontSize={8.2} fill="#3d4450">Version vom 18.05.2026</text>
      <rect x={2197} y={688} width={25} height={34} fill="#69ae2e" />
      <LogoText x={2209.5} y={705} size={11.5} />

      <Panel L={frontLayout} lanes={frontLanes} tasks={frontTasks} milestones={frontMilestones} links={frontLinks} cats={catKeys.filter((k) => k !== "es")} />
      <text x={920.5} y={80} dy="0.35em" fontFamily="Lato, sans-serif" fontWeight={300} fontSize={15.4} fill="#3d4450">Version vom 18.05.2026</text>
      <rect x={2087} y={52} width={40} height={39} fill="#69ae2e" />
      <LogoText x={2107} y={71} size={18} />
    </svg>
  );
}
